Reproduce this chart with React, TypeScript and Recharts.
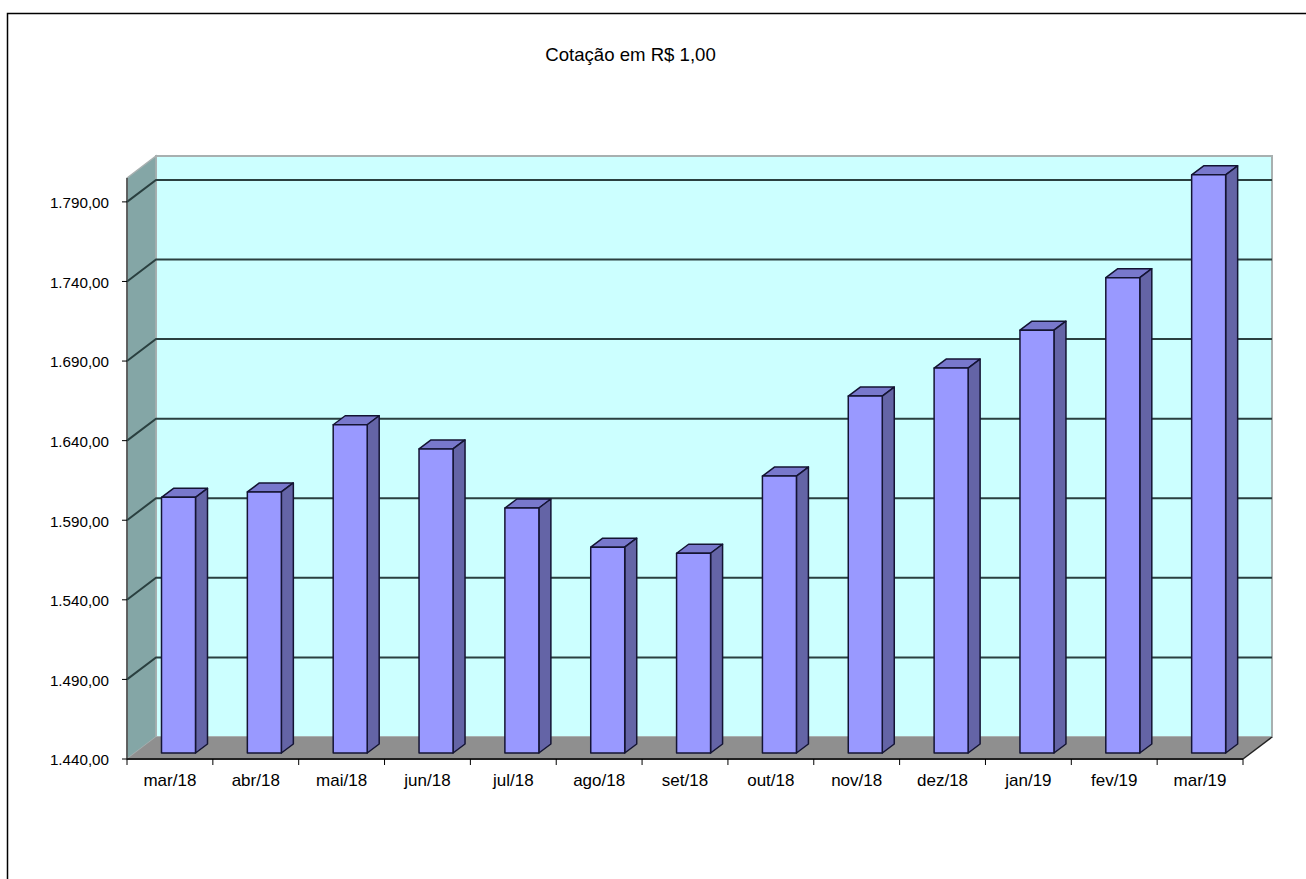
import React from "react";
import { BarChart, Bar, XAxis, YAxis, CartesianGrid } from "recharts";

const categories = ["mar/18", "abr/18", "mai/18", "jun/18", "jul/18", "ago/18", "set/18", "out/18", "nov/18", "dez/18", "jan/19", "fev/19", "mar/19"];
const cotacao = [1600.6, 1604, 1646.2, 1631, 1593.9, 1569.3, 1565.5, 1614, 1664.2, 1681.8, 1705.6, 1738.6, 1803.2];
const yTicks = [1440, 1490, 1540, 1590, 1640, 1690, 1740, 1790];

const chartData = categories.map((mes, i) => ({ mes, valor: cotacao[i] }));

// plano frontal e profundidade do "3D"
const LEFT = 127;
const RIGHT = 1243;
const TOP = 178;
const BOTTOM = 759;
const DX = 29;
const DY = -22;
const BAND = (RIGHT - LEFT) / categories.length;

const FONT = "'Liberation Sans', Arial, sans-serif";

const formatBR = (v: number) =>
  v.toLocaleString("pt-BR", { minimumFractionDigits: 2, maximumFractionDigits: 2 });

// fica atras do grafico, que tem fundo transparente
const Walls = () => (
  <svg width={1306} height={879} style={{ position: "absolute", left: 0, top: 0 }}>
    <rect x={7.5} y={13.5} width={1320} height={900} fill="#fff" stroke="#000" strokeWidth={1.5} />
    <polygon
      points={`${LEFT + DX},${TOP + DY} ${RIGHT + DX},${TOP + DY} ${RIGHT + DX},${BOTTOM + DY} ${LEFT + DX},${BOTTOM + DY}`}
      fill="#ccffff"
      stroke="#a8b0b0"
      strokeWidth={2}
    />
    <polygon
      points={`${LEFT},${TOP} ${LEFT + DX},${TOP + DY} ${LEFT + DX},${BOTTOM + DY} ${LEFT},${BOTTOM}`}
      fill="#84a6a6"
      stroke="#a8b0b0"
      strokeWidth={1.5}
    />
    <polygon
      points={`${LEFT},${BOTTOM} ${LEFT + DX},${BOTTOM + DY} ${RIGHT + DX},${BOTTOM + DY} ${RIGHT},${BOTTOM}`}
      fill="#8f8f8f"
    />
    <line x1={LEFT} y1={TOP} x2={LEFT} y2={BOTTOM} stroke="#444" strokeWidth={1.5} />
    <line x1={RIGHT} y1={BOTTOM} x2={RIGHT + DX} y2={BOTTOM + DY} stroke="#222" strokeWidth={1.5} />
    <text x={630.5} y={61} textAnchor="middle" fontFamily={FONT} fontSize={18.6} fill="#000">
      Cotação em R$ 1,00
    </text>
  </svg>
);

const GridLine = (props: any) => {
  const { x1, x2, y1 } = props;
  return (
    <polyline
      points={`${x1},${y1} ${x1 + DX},${y1 + DY} ${x2 + DX},${y1 + DY}`}
      fill="none"
      stroke="#2a4040"
      strokeWidth={2}
    />
  );
};

const Bar3D = (props: any) => {
  const { x, y, width, height } = props;
  const l = x + 8.5;
  const r = l + width;
  const t = y - 6;
  const b = y + height - 6;
  const dx = 12;
  const dy = -9;
  return (
    <g stroke="#141433" strokeWidth={1.5} strokeLinejoin="round">
      <polygon points={`${l},${t} ${l + dx},${t + dy} ${r + dx},${t + dy} ${r},${t}`} fill="#7878cc" />
      <polygon points={`${r},${t} ${r + dx},${t + dy} ${r + dx},${b + dy} ${r},${b}`} fill="#6464a6" />
      <rect x={l} y={t} width={width} height={height} fill="#9999ff" />
    </g>
  );
};

const XTick = (props: any) => {
  const { x, y, payload, index } = props;
  const left = x - BAND / 2;
  return (
    <g>
      <line x1={left} y1={BOTTOM} x2={left} y2={BOTTOM + 6} stroke="#000" />
      {index === categories.length - 1 && (
        <line x1={left + BAND} y1={BOTTOM} x2={left + BAND} y2={BOTTOM + 6} stroke="#000" />
      )}
      <text x={x} y={y + 19} textAnchor="middle" fontFamily={FONT} fontSize={17} fill="#000">
        {payload.value}
      </text>
    </g>
  );
};

export default function App() {
  return (
    <div style={{ position: "absolute", left: 0, top: 0, width: 1306, height: 879, overflow: "hidden", background: "#fff" }}>
      <Walls />
      <div style={{ position: "absolute", left: 0, top: 0 }}>
        <BarChart
          width={1306}
          height={879}
          data={chartData}
          barSize={34}
          margin={{ top: TOP, right: 1306 - RIGHT, bottom: 879 - BOTTOM - 30, left: LEFT - 100 }}
        >
          <CartesianGrid
            vertical={false}
            horizontalValues={yTicks.slice(1)}
            horizontal={(p: any) => <GridLine key={p.index ?? p.y1} {...p} />}
          />
          <XAxis
            dataKey="mes"
            interval={0}
            height={30}
            axisLine={{ stroke: "#222", strokeWidth: 2 }}
            tickLine={false}
            tick={<XTick />}
          />
          <YAxis
            width={100}
            domain={[1440, 1805]}
            ticks={yTicks}
            tickFormatter={formatBR}
            axisLine={false}
            tickSize={5}
            tickMargin={13}
            tickLine={{ stroke: "#000" }}
            tick={{ fontSize: 15.2, fontFamily: FONT, fill: "#000", dy: 1 }}
          />
          <Bar dataKey="valor" isAnimationActive={false} shape={<Bar3D />} />
        </BarChart>
      </div>
    </div>
  );
}
